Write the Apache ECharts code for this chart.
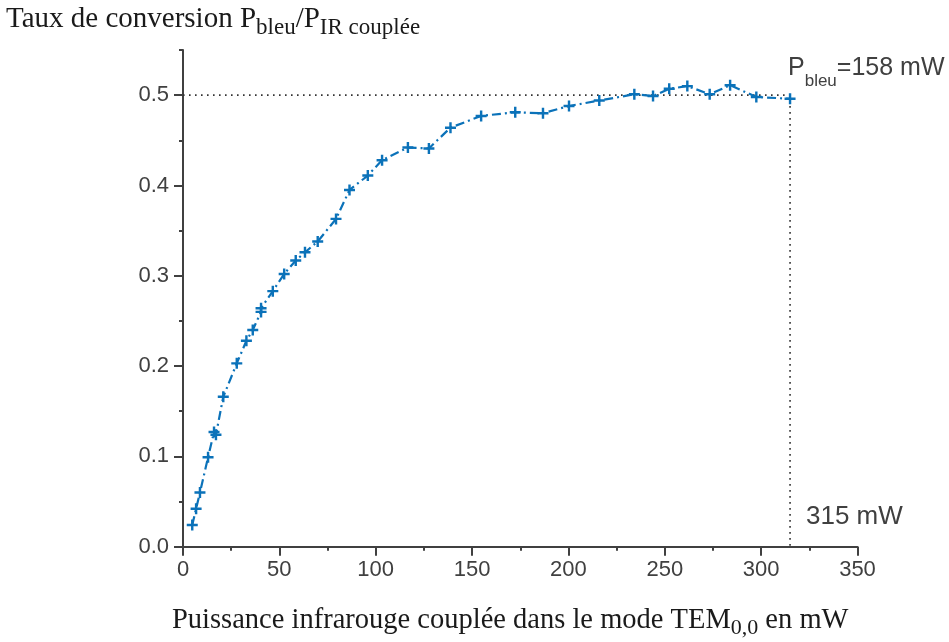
<!DOCTYPE html>
<html><head><meta charset="utf-8">
<script src="https://cdn.jsdelivr.net/npm/echarts@6/dist/echarts.min.js"></script>
<style>html,body{margin:0;padding:0;background:#fff}#c{width:949px;height:642px}</style>
</head><body><div id="c"></div>
<script>
// Infrared power coupled in TEM00 mode (mW)
const powerIR = [4.8,6.8,8.8,13.0,16.1,17.1,20.9,27.9,32.9,36.2,40.5,40.5,46.6,52.5,58.5,63.3,69.9,79.4,86.4,95.9,103.3,116.7,127.6,138.8,154.7,172.4,186.8,200.3,216.0,234.2,243.9,252.3,261.7,273.3,283.9,297.5,315.0];
// Conversion ratio P_bleu / P_IR
const conversion = [0.024,0.042,0.060,0.099,0.127,0.124,0.166,0.203,0.228,0.240,0.260,0.264,0.283,0.302,0.317,0.326,0.338,0.363,0.395,0.411,0.428,0.442,0.441,0.464,0.477,0.481,0.480,0.488,0.494,0.501,0.499,0.507,0.510,0.501,0.511,0.498,0.496];
// Reference (dotted) guide lines
const refX = [0, 315, 315];
const refY = [0.5, 0.5, 0];
// Tick labels
const xTickLabels = [0, 50, 100, 150, 200, 250, 300, 350];
const yTickLabels = [0, 0.1, 0.2, 0.3, 0.4, 0.5];

const blue = '#0b72b9';
const axisCol = '#404040';
const serif = '"Liberation Serif","Times New Roman",serif';
const sans = '"Liberation Sans",Arial,sans-serif';

const chart = echarts.init(document.getElementById('c'), null, {renderer: 'canvas'});
const mainData = powerIR.map((x, i) => [x, conversion[i]]);
const refData = refX.map((x, i) => [x, refY[i]]);

chart.setOption({
  animation: false,
  backgroundColor: '#fff',
  grid: {left: 183, top: 50, width: 674.5, height: 496.7, containLabel: false},
  xAxis: {
    type: 'value', min: 0, max: 350, interval: 50,
    axisLine: {show: true, onZero: false, lineStyle: {color: axisCol, width: 2}},
    axisTick: {show: true, length: 9, lineStyle: {color: axisCol, width: 2}},
    minorTick: {show: true, splitNumber: 2, length: 4, lineStyle: {color: axisCol, width: 2}},
    axisLabel: {customValues: xTickLabels, color: axisCol, fontSize: 22, fontFamily: sans, margin: 12},
    splitLine: {show: false}
  },
  yAxis: [{
    type: 'value', min: 0, max: 0.55, interval: 0.1,
    axisLine: {show: true, onZero: false, lineStyle: {color: axisCol, width: 2}},
    axisTick: {show: true, customValues: yTickLabels, length: 9, lineStyle: {color: axisCol, width: 2}},
    axisLabel: {customValues: yTickLabels, formatter: v => v.toFixed(1), color: axisCol, fontSize: 22, fontFamily: sans, margin: 14},
    splitLine: {show: false}
  }, {
    type: 'value', min: 0, max: 0.55, interval: 0.05, position: 'left',
    axisLine: {show: false},
    axisTick: {show: true, length: 4, lineStyle: {color: axisCol, width: 2}},
    axisLabel: {show: false},
    splitLine: {show: false}
  }],
  series: [{
    type: 'line', data: refData, yAxisIndex: 0, symbol: 'none', silent: true, z: 1,
    lineStyle: {color: '#333', width: 1.6, type: [1.6, 4.4]}
  }, {
    type: 'line', data: mainData, yAxisIndex: 0, z: 3,
    symbol: 'path://M3.9,0H6.1V3.9H10V6.1H6.1V10H3.9V6.1H0V3.9H3.9Z',
    symbolSize: 11, symbolKeepAspect: true,
    itemStyle: {color: blue},
    lineStyle: {color: blue, width: 2.2, type: [9, 4, 2, 4]}
  }],
  graphic: [{
    type: 'text', left: 6, top: 5,
    style: {
      text: 'Taux de conversion P{s|bleu}/P{s|IR couplée}',
      font: '29px ' + serif, fill: '#1a1a1a',
      rich: {s: {fontSize: 23, fontFamily: serif, fill: '#1a1a1a', padding: [16, 0, 0, 0]}}
    }
  }, {
    type: 'text', left: 172, top: 606,
    style: {
      text: 'Puissance infrarouge couplée dans le mode TEM{s|0,0} en mW',
      font: '28.5px ' + serif, fill: '#1a1a1a',
      rich: {s: {fontSize: 22, fontFamily: serif, fill: '#1a1a1a', padding: [16, 0, 0, 0]}}
    }
  }, {
    type: 'text', left: 788, top: 56,
    style: {
      text: 'P{s|bleu}=158 mW',
      font: '25px ' + sans, fill: axisCol,
      rich: {s: {fontSize: 17, fontFamily: sans, fill: axisCol, padding: [26, 0, 0, 0]}}
    }
  }, {
    type: 'text', left: 806, top: 504,
    style: {text: '315 mW', font: '26px ' + sans, fill: axisCol}
  }]
});
</script></body></html>
